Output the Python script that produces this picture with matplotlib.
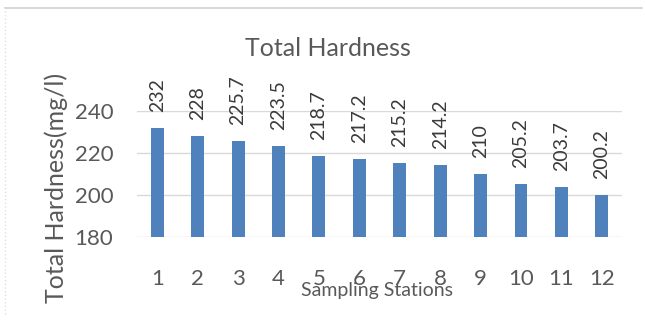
import matplotlib
matplotlib.use('Agg')
import matplotlib.pyplot as plt
from matplotlib.lines import Line2D

plt.rcParams['font.family'] = ['Lato', 'DejaVu Sans']

stations = ['1', '2', '3', '4', '5', '6', '7', '8', '9', '10', '11', '12']
hardness = [232, 228, 225.7, 223.5, 218.7, 217.2, 215.2, 214.2, 210, 205.2, 203.7, 200.2]
value_labels = ['232', '228', '225.7', '223.5', '218.7', '217.2', '215.2', '214.2',
                '210', '205.2', '203.7', '200.2']
yticks = [180, 200, 220, 240]

txt = '#595959'
fig = plt.figure(figsize=(6.45, 3.24), dpi=100)
ax = fig.add_axes([0.2124, 0.2685, 0.752, 0.389])

x = list(range(1, len(stations) + 1))
ax.bar(x, [h - 180 for h in hardness], bottom=180, width=0.32, color='#4F81BD', zorder=3)
for xi, h, lab in zip(x, hardness, value_labels):
    ax.annotate(lab, (xi, h), xytext=(0, 11.5), textcoords='offset points',
                rotation=90, ha='center', va='bottom', fontsize=14, color='#3A3A3A',
                annotation_clip=False)

ax.set_xlim(0.5, 12.5)
ax.set_ylim(180, 240)
ax.set_yticks(yticks)
ax.set_xticks(x)
ax.set_xticklabels(stations)
ax.tick_params(axis='both', length=0, labelsize=16, colors=txt)
ax.tick_params(axis='x', pad=23)
ax.tick_params(axis='y', pad=17)
ax.grid(axis='y', color='#D9D9D9', lw=1, zorder=0)
for s in ax.spines.values():
    s.set_visible(False)

fig.text(0.508, 0.849, 'Total Hardness', ha='center', va='center', fontsize=18, color=txt)
fig.text(0.584, 0.102, 'Sampling Stations', ha='center', va='center', fontsize=14, color=txt)
fig.text(0.087, 0.42, 'Total Hardness(mg/l)', ha='center', va='center', rotation=90,
         fontsize=18, color=txt)

# light chart border (top and left)
fig.add_artist(Line2D([0.008, 0.995], [0.975, 0.975], color='#D0D0D0', lw=1.2))
fig.add_artist(Line2D([0.008, 0.008], [0.03, 0.975], color='#E0E0E0', lw=1, ls=':'))

fig.savefig('out.png', dpi=100)
